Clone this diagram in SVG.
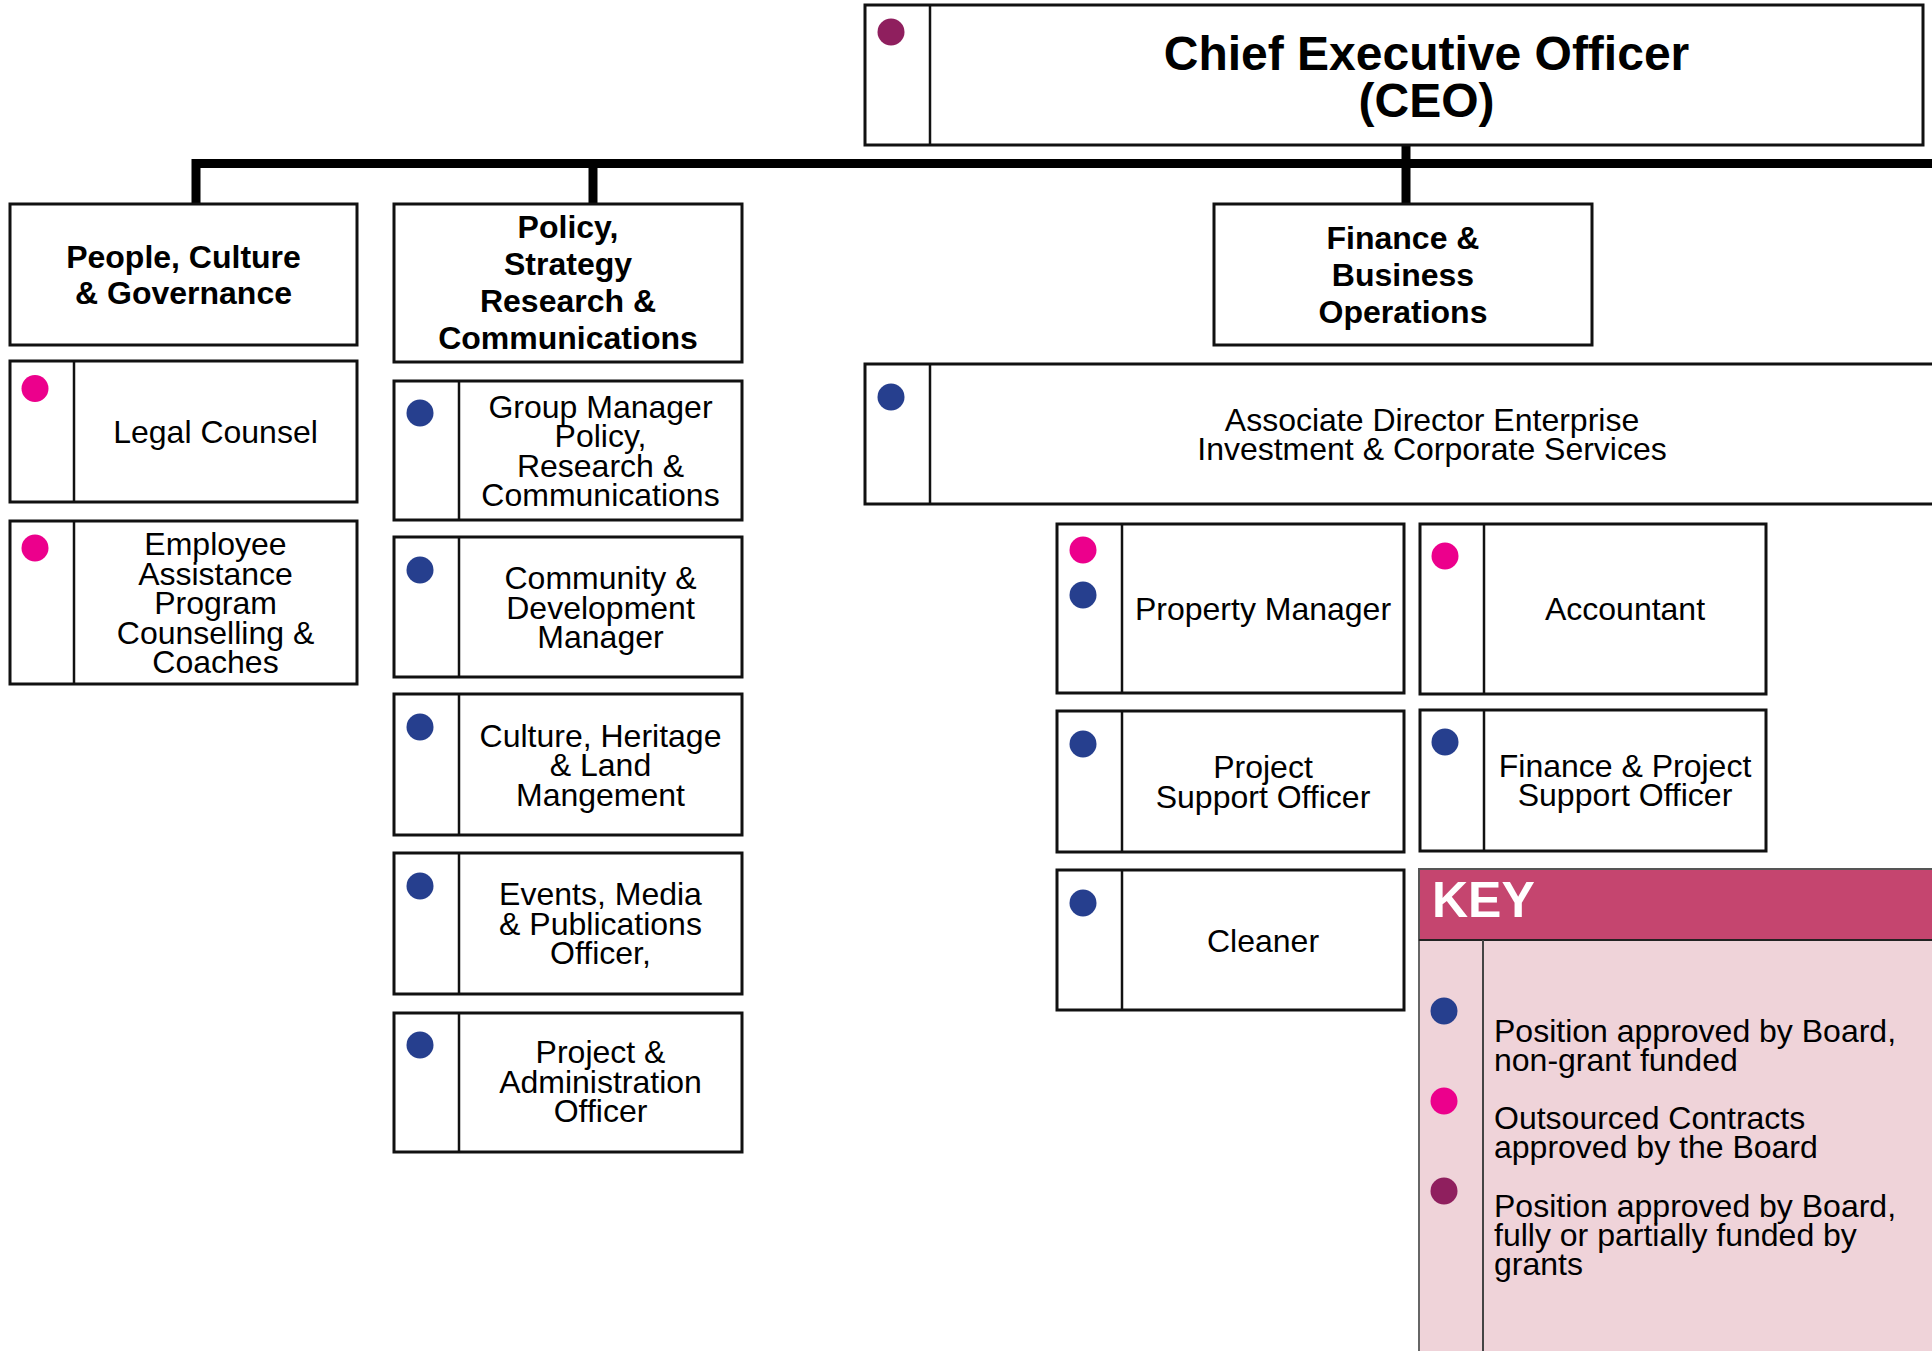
<svg xmlns="http://www.w3.org/2000/svg" width="1932" height="1351" viewBox="0 0 1932 1351">
<style>
.box{fill:#fff;stroke:#111;stroke-width:3}
.div{stroke:#111;stroke-width:2.5}
.t{font-family:"Liberation Sans",Arial,sans-serif;font-size:32px;fill:#000;text-anchor:middle}
.h{font-family:"Liberation Sans",Arial,sans-serif;font-size:32px;font-weight:bold;fill:#000;text-anchor:middle}
.k{font-family:"Liberation Sans",Arial,sans-serif;font-size:32px;fill:#000}
.blue{fill:#263F8E}
.pink{fill:#EC008C}
.purple{fill:#8F1F5E}
.conn{fill:none;stroke:#000;stroke-width:9;stroke-linejoin:miter}
</style>
<rect width="1932" height="1351" fill="#fff"/>
<g id="connectors">
<path class="conn" d="M196,204 V163.5 H1932"/>
<path class="conn" d="M593,163.5 V204"/>
<path class="conn" d="M1406,145 V204"/>
</g>
<g id="ceo">
<rect class="box" x="865" y="5" width="1058" height="140"/>
<line class="div" x1="930" y1="5" x2="930" y2="145"/>
<circle class="purple" cx="891" cy="32" r="13.5"/>
<text class="h" style="font-size:48px" x="1426.5"><tspan x="1426.5" y="70">Chief Executive Officer</tspan><tspan x="1426.5" y="117">(CEO)</tspan></text>
</g>
<g id="people-culture-governance">
<rect class="box" x="10" y="204" width="347" height="141"/>
<text class="h"><tspan x="183.5" y="267.5">People, Culture</tspan><tspan x="183.5" y="304">&amp; Governance</tspan></text>
</g>
<g id="legal-counsel">
<rect class="box" x="10" y="361" width="347" height="141"/>
<line class="div" x1="74" y1="361" x2="74" y2="502"/>
<circle class="pink" cx="35" cy="388.5" r="13.5"/>
<text class="t"><tspan x="215.5" y="443">Legal Counsel</tspan></text>
</g>
<g id="employee-assistance">
<rect class="box" x="10" y="521" width="347" height="163"/>
<line class="div" x1="74" y1="521" x2="74" y2="684"/>
<circle class="pink" cx="35" cy="548" r="13.5"/>
<text class="t"><tspan x="215.5" y="555">Employee</tspan><tspan x="215.5" y="584.5">Assistance</tspan><tspan x="215.5" y="614">Program</tspan><tspan x="215.5" y="643.5">Counselling &amp;</tspan><tspan x="215.5" y="673">Coaches</tspan></text>
</g>
<g id="policy-strategy">
<rect class="box" x="394" y="204" width="348" height="158"/>
<text class="h"><tspan x="568" y="238">Policy,</tspan><tspan x="568" y="275">Strategy</tspan><tspan x="568" y="312">Research &amp;</tspan><tspan x="568" y="349">Communications</tspan></text>
</g>
<g id="group-manager">
<rect class="box" x="394" y="381" width="348" height="139"/>
<line class="div" x1="459" y1="381" x2="459" y2="520"/>
<circle class="blue" cx="420" cy="413" r="13.5"/>
<text class="t"><tspan x="600.5" y="417.5">Group Manager</tspan><tspan x="600.5" y="447">Policy,</tspan><tspan x="600.5" y="476.5">Research &amp;</tspan><tspan x="600.5" y="506">Communications</tspan></text>
</g>
<g id="community-development">
<rect class="box" x="394" y="537" width="348" height="140"/>
<line class="div" x1="459" y1="537" x2="459" y2="677"/>
<circle class="blue" cx="420" cy="570" r="13.5"/>
<text class="t"><tspan x="600.5" y="589">Community &amp;</tspan><tspan x="600.5" y="618.5">Development</tspan><tspan x="600.5" y="648">Manager</tspan></text>
</g>
<g id="culture-heritage">
<rect class="box" x="394" y="694" width="348" height="141"/>
<line class="div" x1="459" y1="694" x2="459" y2="835"/>
<circle class="blue" cx="420" cy="727" r="13.5"/>
<text class="t"><tspan x="600.5" y="746.5">Culture, Heritage</tspan><tspan x="600.5" y="776">&amp; Land</tspan><tspan x="600.5" y="805.5">Mangement</tspan></text>
</g>
<g id="events-media">
<rect class="box" x="394" y="853" width="348" height="141"/>
<line class="div" x1="459" y1="853" x2="459" y2="994"/>
<circle class="blue" cx="420" cy="886" r="13.5"/>
<text class="t"><tspan x="600.5" y="905">Events, Media</tspan><tspan x="600.5" y="934.5">&amp; Publications</tspan><tspan x="600.5" y="964">Officer,</tspan></text>
</g>
<g id="project-administration">
<rect class="box" x="394" y="1013" width="348" height="139"/>
<line class="div" x1="459" y1="1013" x2="459" y2="1152"/>
<circle class="blue" cx="420" cy="1045" r="13.5"/>
<text class="t"><tspan x="600.5" y="1063">Project &amp;</tspan><tspan x="600.5" y="1092.5">Administration</tspan><tspan x="600.5" y="1122">Officer</tspan></text>
</g>
<g id="finance-business">
<rect class="box" x="1214" y="204" width="378" height="141"/>
<text class="h"><tspan x="1403" y="249">Finance &amp;</tspan><tspan x="1403" y="286">Business</tspan><tspan x="1403" y="323">Operations</tspan></text>
</g>
<g id="associate-director">
<rect class="box" x="865" y="364" width="1072" height="140"/>
<line class="div" x1="930" y1="364" x2="930" y2="504"/>
<circle class="blue" cx="891" cy="397" r="13.5"/>
<text class="t"><tspan x="1432" y="431">Associate Director Enterprise</tspan><tspan x="1432" y="460">Investment &amp; Corporate Services</tspan></text>
</g>
<g id="property-manager">
<rect class="box" x="1057" y="524" width="347" height="169"/>
<line class="div" x1="1122" y1="524" x2="1122" y2="693"/>
<circle class="pink" cx="1083" cy="550" r="13.5"/>
<circle class="blue" cx="1083" cy="595" r="13.5"/>
<text class="t"><tspan x="1263" y="619.5">Property Manager</tspan></text>
</g>
<g id="accountant">
<rect class="box" x="1420" y="524" width="346" height="170"/>
<line class="div" x1="1484" y1="524" x2="1484" y2="694"/>
<circle class="pink" cx="1445" cy="556" r="13.5"/>
<text class="t"><tspan x="1625" y="620">Accountant</tspan></text>
</g>
<g id="project-support">
<rect class="box" x="1057" y="711" width="347" height="141"/>
<line class="div" x1="1122" y1="711" x2="1122" y2="852"/>
<circle class="blue" cx="1083" cy="744" r="13.5"/>
<text class="t"><tspan x="1263" y="778">Project</tspan><tspan x="1263" y="807.5">Support Officer</tspan></text>
</g>
<g id="finance-project-support">
<rect class="box" x="1420" y="710" width="346" height="141"/>
<line class="div" x1="1484" y1="710" x2="1484" y2="851"/>
<circle class="blue" cx="1445" cy="742" r="13.5"/>
<text class="t"><tspan x="1625" y="776.5">Finance &amp; Project</tspan><tspan x="1625" y="806">Support Officer</tspan></text>
</g>
<g id="cleaner">
<rect class="box" x="1057" y="870" width="347" height="140"/>
<line class="div" x1="1122" y1="870" x2="1122" y2="1010"/>
<circle class="blue" cx="1083" cy="903" r="13.5"/>
<text class="t"><tspan x="1263" y="951.5">Cleaner</tspan></text>
</g>
<g id="key">
<rect x="1419" y="869" width="520" height="500" fill="#EFD3D9" stroke="#666" stroke-width="2"/>
<rect x="1419" y="869" width="520" height="71" fill="#C5456F" stroke="#555" stroke-width="2"/>
<line x1="1419" y1="940" x2="1939" y2="940" stroke="#222" stroke-width="2"/>
<line x1="1483" y1="940" x2="1483" y2="1360" stroke="#444" stroke-width="2"/>
<text x="1432" y="917" style="font-family:'Liberation Sans',Arial,sans-serif;font-size:50px;font-weight:bold;fill:#fff">KEY</text>
<circle class="blue" cx="1444" cy="1011" r="13.5"/>
<circle class="pink" cx="1444" cy="1101" r="13.5"/>
<circle class="purple" cx="1444" cy="1191" r="13.5"/>
<text class="k"><tspan x="1494" y="1042">Position approved by Board,</tspan><tspan x="1494" y="1071">non-grant funded</tspan></text>
<text class="k"><tspan x="1494" y="1129">Outsourced Contracts</tspan><tspan x="1494" y="1158">approved by the Board</tspan></text>
<text class="k"><tspan x="1494" y="1217">Position approved by Board,</tspan><tspan x="1494" y="1246">fully or partially funded by</tspan><tspan x="1494" y="1275">grants</tspan></text>
</g>
</svg>
